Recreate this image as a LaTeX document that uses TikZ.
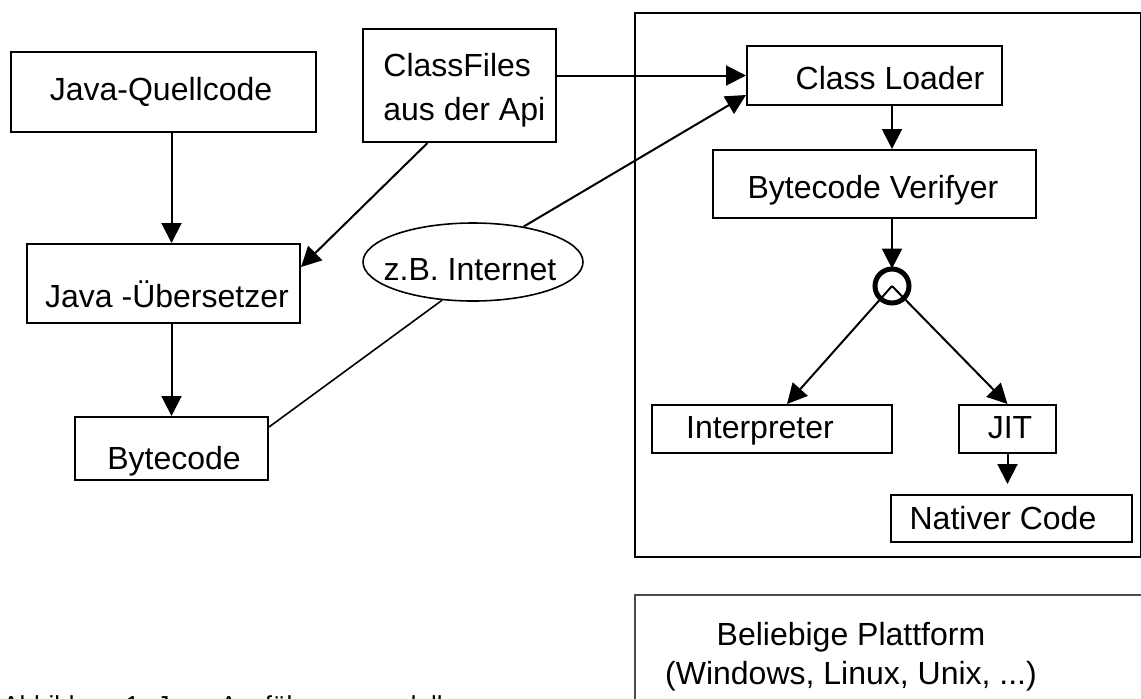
\documentclass[tikz,border=0pt]{standalone}
\usepackage{fontspec}
\setmainfont{Liberation Sans}
\usetikzlibrary{arrows.meta,shapes.geometric,calc}
\begin{document}
\begin{tikzpicture}[x=0.5pt,y=-0.5pt,
  box/.style={draw,line width=1pt,rectangle,inner sep=0pt},
  arr/.style={-{Triangle[length=10pt,width=10pt]},line width=1pt},
  ln/.style={line width=0.8pt},
  txt/.style={font=\fontsize{16}{19}\selectfont,inner sep=0pt,anchor=base},
  txtl/.style={font=\fontsize{16}{19}\selectfont,inner sep=0pt,anchor=base west}]
\useasboundingbox (0,0) rectangle (1141,698);
% boxes
\node[box,minimum width=152.5pt,minimum height=40pt] (q) at (163.5,92) {};
\node[box,minimum width=136.5pt,minimum height=39.5pt] (u) at (163.5,283.5) {};
\node[box,minimum width=96.5pt,minimum height=31.5pt] (b) at (171.5,448.5) {};
\node[box,minimum width=96.5pt,minimum height=56.5pt] (cf) at (459.5,85.5) {};
\node[box,minimum width=253pt,minimum height=272pt] (big) at (888,285) {};
\node[box,minimum width=127.5pt,minimum height=29.5pt] (cl) at (874.5,75.5) {};
\node[box,minimum width=161.5pt,minimum height=34pt] (bv) at (874.5,184) {};
\node[box,minimum width=120pt,minimum height=24pt] (ip) at (772,429) {};
\node[box,minimum width=48.5pt,minimum height=24pt] (jit) at (1007.5,429) {};
\node[box,minimum width=120.5pt,minimum height=23.5pt] (nc) at (1011.5,518.5) {};
\node[draw=black!70,line width=0.9pt,rectangle,inner sep=0pt,minimum width=262.5pt,minimum height=62.5pt] (pf) at (897.5,657.5) {};
\node[draw,ellipse,line width=0.8pt,inner sep=0pt,minimum width=110pt,minimum height=39pt] (el) at (473,262) {};
\node[circle,inner sep=0pt,minimum size=17pt] (circ) at (892,286) {};
% texts
\node[txt] (t1) at (161,100) {Java-Quellcode};
\node[txtl] (t2) at (383,76) {ClassFiles};
\node[txtl] (t3) at (383,120) {aus der Api};
\node[txt] (t4) at (890,89) {Class Loader};
\node[txt] (t5) at (873,198) {Bytecode Verifyer};
\node[txt] (t6) at (167,307) {Java -Übersetzer};
\node[txt] (t7) at (174,469) {Bytecode};
\node[txt] (t8) at (470,280) {z.B. Internet};
\node[txt] (t9) at (760,438) {Interpreter};
\node[txt] (t10) at (1010,438) {JIT};
\node[txt] (t11) at (1003,529) {Nativer Code};
\node[txt] (t12) at (851,645) {Beliebige Plattform};
\node[txt] (t13) at (851,684) {(Windows, Linux, Unix, ...)};
\node[font=\fontsize{13}{15}\selectfont,inner sep=0pt,anchor=base west] (cap) at (2,714) {Abbildung 1: Java-Ausführungsmodell};
% connectors
\draw[arr] (q.south -| b.north) -- (u.north -| b.north);
\draw[arr] (u.south -| b.north) -- (b.north);
\draw[arr] ($(cf.south)+(-32,0)$) -- ($(u.north east)+(0,24)$);
\draw[arr] (cf.east |- cl.west) -- (cl.west);
\draw[arr] (el.35) -- ($(cl.south west)+(0,-11)$);
\draw[ln] (el.231) -- ($(b.north east)+(0,11)$);
\draw[arr] (cl.south -| circ) -- (bv.north -| circ);
\draw[arr] (bv.south -| circ) -- (circ.north);
\draw[arr] (circ.center) -- ($(ip.north)+(15,0)$);
\draw[arr] (circ.center) -- (jit.north);
\draw[arr,shorten >=5pt] (jit.south) -- (nc.north -| jit.south);
\draw[line width=2.5pt] (circ.center) circle[radius=8.5pt];
\end{tikzpicture}
\end{document}
